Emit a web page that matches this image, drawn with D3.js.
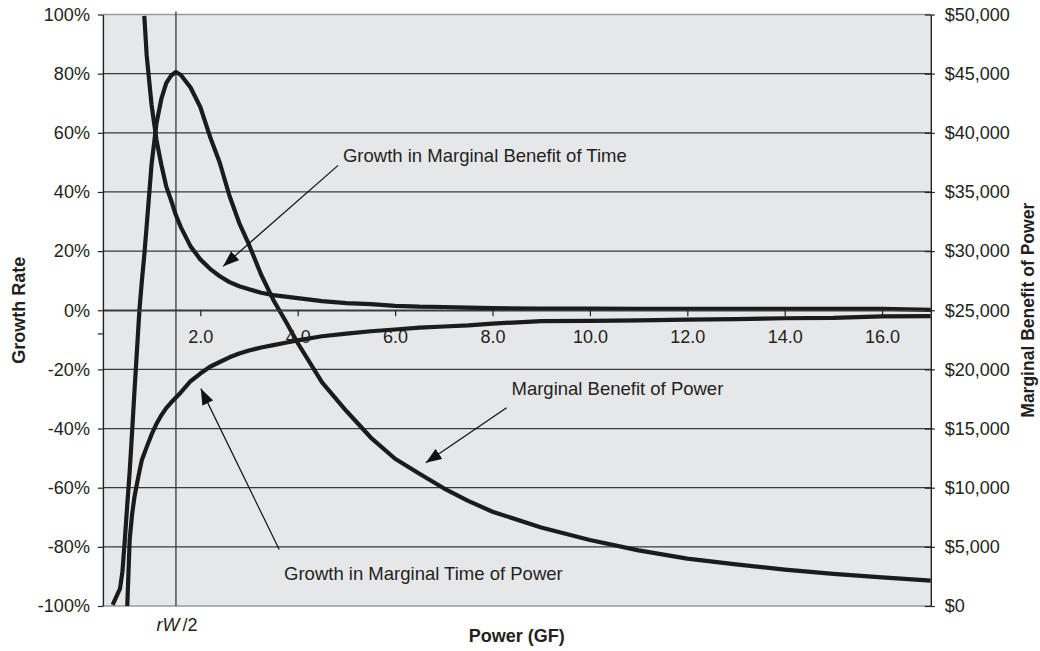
<!DOCTYPE html>
<html>
<head>
<meta charset="utf-8">
<script src="https://cdn.jsdelivr.net/npm/d3@7"></script>
<style>
  html, body { margin: 0; padding: 0; background: #ffffff; }
  svg { display: block; }
  text { font-family: "Liberation Sans", Arial, Helvetica, sans-serif; fill: #231f20; }
</style>
</head>
<body>
<svg id="chart" width="1040" height="651"></svg>
<script>
// ---------------- DATA ----------------
const power = [0.2, 0.3, 0.35, 0.4, 0.45, 0.5, 0.55, 0.6, 0.65, 0.7, 0.75, 0.8, 0.85, 0.9,
  1.0, 1.1, 1.2, 1.3, 1.4, 1.5, 1.6, 1.8, 2.0, 2.2, 2.4, 2.6, 2.8, 3.0, 3.25, 3.5, 3.75, 4.0,
  4.5, 5, 5.5, 6, 6.5, 7, 7.5, 8, 9, 10, 11, 12, 13, 14, 15, 16, 17];

// Marginal Benefit of Power ($, right axis)
const marginalBenefitOfPower = [100, 1010, 1440, 2870, 5580, 8540, 11380, 14730, 18280, 21660, 25020, 27470, 29670, 32200,
  37360, 40790, 42860, 44190, 44840, 45140, 44890, 43830, 42180, 39670, 37470, 34660, 32370, 30540, 28000, 25870, 24090, 22230,
  18900, 16480, 14240, 12450, 11180, 9950, 8890, 7970, 6630, 5580, 4700, 4000, 3520, 3080, 2720, 2420, 2140];

// Growth in Marginal Benefit of Time (%, left axis)
const growthMarginalBenefitOfTime = [null, null, null, null, null, null, null, null, null, null, null, null, 99.5, 86,
  69.4, 57.6, 49.2, 41.9, 37.2, 32.1, 28.1, 21.6, 17.2, 14.0, 11.5, 9.5, 8.1, 7.1, 5.9, 5.1, 4.6, 4.1,
  3.1, 2.4, 2.1, 1.5, 1.2, 1.1, 0.9, 0.7, 0.6, 0.6, 0.5, 0.5, 0.5, 0.5, 0.5, 0.5, 0.1];

// Growth in Marginal Time of Power (%, left axis)
const growthMarginalTimeOfPower = [null, null, null, null, null, -100, -77.5, -68.9, -62.9, -58.6, -54.5, -50.6, -48.4, -46.2,
  -42.0, -38.4, -35.5, -33.1, -31.2, -29.5, -27.8, -24.0, -21.4, -19.1, -17.5, -15.9, -14.6, -13.6, -12.6, -11.8, -11.0, -10.2,
  -8.8, -7.9, -7.1, -6.5, -5.9, -5.5, -5.1, -4.5, -3.7, -3.6, -3.4, -3.2, -3.0, -2.7, -2.6, -2.1, -2.0];

const leftTicks = [-100, -80, -60, -40, -20, 0, 20, 40, 60, 80, 100];
const rightTicks = [0, 5000, 10000, 15000, 20000, 25000, 30000, 35000, 40000, 45000, 50000];
const xTicks = [2, 4, 6, 8, 10, 12, 14, 16];
const rwHalf = 1.5;           // position of the rW/2 marker line
const minorLeftTick = -8;     // small stray tick on the left axis

// annotations: label position and arrow (start -> tip) in data units (power, growth %)
const annotations = [
  { label: "Growth in Marginal Benefit of Time", tx: 4.93, ty: 50.2, x1: 4.83, y1: 49.0, x2: 2.47, y2: 14.9 },
  { label: "Marginal Benefit of Power",          tx: 8.39, ty: -28.7, x1: 8.29, y1: -33.0, x2: 6.63, y2: -51.6 },
  { label: "Growth in Marginal Time of Power",   tx: 3.72, ty: -91.1, x1: 3.62, y1: -80.9, x2: 2.01, y2: -26.5 }
];

// ---------------- LAYOUT ----------------
const L = 102.9, R = 930.8, T = 14.5, B = 606;
const svg = d3.select("#chart");

const x = d3.scaleLinear().domain([0, 17]).range([L, R]);
const yL = d3.scaleLinear().domain([-100, 100]).range([B, T]);
const yR = d3.scaleLinear().domain([0, 50000]).range([B, T]);

const defs = svg.append("defs");
defs.append("clipPath").attr("id", "plotClip")
  .append("rect").attr("x", L).attr("y", T).attr("width", R - L).attr("height", B - T);
defs.append("marker")
  .attr("id", "arrowHead")
  .attr("viewBox", "0 0 16 12")
  .attr("refX", 16).attr("refY", 6)
  .attr("markerWidth", 16).attr("markerHeight", 12)
  .attr("markerUnits", "userSpaceOnUse")
  .attr("orient", "auto")
  .append("path").attr("d", "M0,0 L16,6 L0,12 Z").attr("fill", "#111");

// plot background
svg.append("rect").attr("x", L).attr("y", T).attr("width", R - L).attr("height", B - T)
  .attr("fill", "#e6e7e9");

// horizontal grid lines
svg.append("g").selectAll("line").data(leftTicks).join("line")
  .attr("x1", L).attr("x2", R)
  .attr("y1", d => yL(d)).attr("y2", d => yL(d))
  .attr("stroke", d => (d === 100 || d === -100) ? "#9a9a9a" : "#3a3a3a")
  .attr("stroke-width", d => (d === 100 || d === -100) ? 1.6 : 1.3);

// rW/2 vertical line
svg.append("line")
  .attr("x1", x(rwHalf)).attr("x2", x(rwHalf))
  .attr("y1", T - 3).attr("y2", B)
  .attr("stroke", "#3a3a3a").attr("stroke-width", 1.3);

// curves
const curves = svg.append("g").attr("clip-path", "url(#plotClip)");
const lineL = d3.line().defined(d => d[1] != null).x(d => x(d[0])).y(d => yL(d[1]));
const lineR = d3.line().defined(d => d[1] != null).x(d => x(d[0])).y(d => yR(d[1]));
const style = p => p.attr("fill", "none").attr("stroke", "#1b1b1b").attr("stroke-width", 4.2)
  .attr("stroke-linejoin", "round").attr("stroke-linecap", "butt");

curves.append("path").datum(power.map((p, i) => [p, marginalBenefitOfPower[i]]))
  .attr("d", lineR).call(style);
curves.append("path").datum(power.map((p, i) => [p, growthMarginalBenefitOfTime[i]]))
  .attr("d", lineL).call(style);
curves.append("path").datum(power.map((p, i) => [p, growthMarginalTimeOfPower[i]]))
  .attr("d", lineL).call(style);

// axes
const fontSize = "18px";

const xAxis = svg.append("g").attr("transform", `translate(0,${yL(0)})`)
  .call(d3.axisBottom(x).tickValues(xTicks).tickFormat(d3.format(".1f"))
    .tickSize(6).tickSizeOuter(0).tickPadding(14));
xAxis.select(".domain").attr("stroke", "#3a3a3a").attr("stroke-width", 1.3);
xAxis.selectAll(".tick line").attr("stroke", "#222").attr("stroke-width", 1.2);
xAxis.selectAll(".tick text").style("font-size", fontSize).attr("fill", "#231f20");

const leftAxis = svg.append("g").attr("transform", `translate(${L},0)`)
  .call(d3.axisLeft(yL).tickValues(leftTicks).tickFormat(d => d + "%")
    .tickSize(5).tickSizeOuter(0).tickPadding(8));
leftAxis.select(".domain").attr("stroke", "#222").attr("stroke-width", 1.4);
leftAxis.selectAll(".tick line").attr("stroke", "#222").attr("stroke-width", 1.2);
leftAxis.selectAll(".tick text").style("font-size", fontSize).attr("fill", "#231f20");
leftAxis.append("line").attr("x1", -5).attr("x2", 0)
  .attr("y1", yL(minorLeftTick)).attr("y2", yL(minorLeftTick))
  .attr("stroke", "#222").attr("stroke-width", 1.2);

const rightAxis = svg.append("g").attr("transform", `translate(${R},0)`)
  .call(d3.axisRight(yR).tickValues(rightTicks).tickFormat(d => "$" + d3.format(",")(d))
    .tickSize(4).tickSizeOuter(0).tickPadding(10));
rightAxis.select(".domain").attr("stroke", "#222").attr("stroke-width", 1.4);
rightAxis.selectAll(".tick line").attr("x1", -6).attr("stroke", "#222").attr("stroke-width", 1.2);
rightAxis.selectAll(".tick text").style("font-size", fontSize).attr("fill", "#231f20");

// rW/2 label
const rw = svg.append("text").attr("x", x(rwHalf) + 1).attr("y", 631)
  .attr("text-anchor", "middle").style("font-size", "18px");
rw.append("tspan").style("font-style", "italic").text("rW");
rw.append("tspan").attr("dx", 3).text("/2");

// axis titles
svg.append("text").attr("x", (L + R) / 2).attr("y", 642).attr("text-anchor", "middle")
  .style("font-size", "18px").style("font-weight", "bold").text("Power (GF)");
svg.append("text").attr("transform", `translate(25,${(T + B) / 2}) rotate(-90)`)
  .attr("text-anchor", "middle").style("font-size", "18px").style("font-weight", "bold")
  .text("Growth Rate");
svg.append("text").attr("transform", `translate(1034,${(T + B) / 2}) rotate(-90)`)
  .attr("text-anchor", "middle").style("font-size", "17.5px").style("font-weight", "bold")
  .text("Marginal Benefit of Power");

// annotations
const ann = svg.append("g");
ann.selectAll("line").data(annotations).join("line")
  .attr("x1", d => x(d.x1)).attr("y1", d => yL(d.y1))
  .attr("x2", d => x(d.x2)).attr("y2", d => yL(d.y2))
  .attr("stroke", "#111").attr("stroke-width", 1.2)
  .attr("marker-end", "url(#arrowHead)");
ann.selectAll("text").data(annotations).join("text")
  .attr("x", d => x(d.tx)).attr("y", d => yL(d.ty))
  .style("font-size", "18.5px").text(d => d.label);
</script>
</body>
</html>
